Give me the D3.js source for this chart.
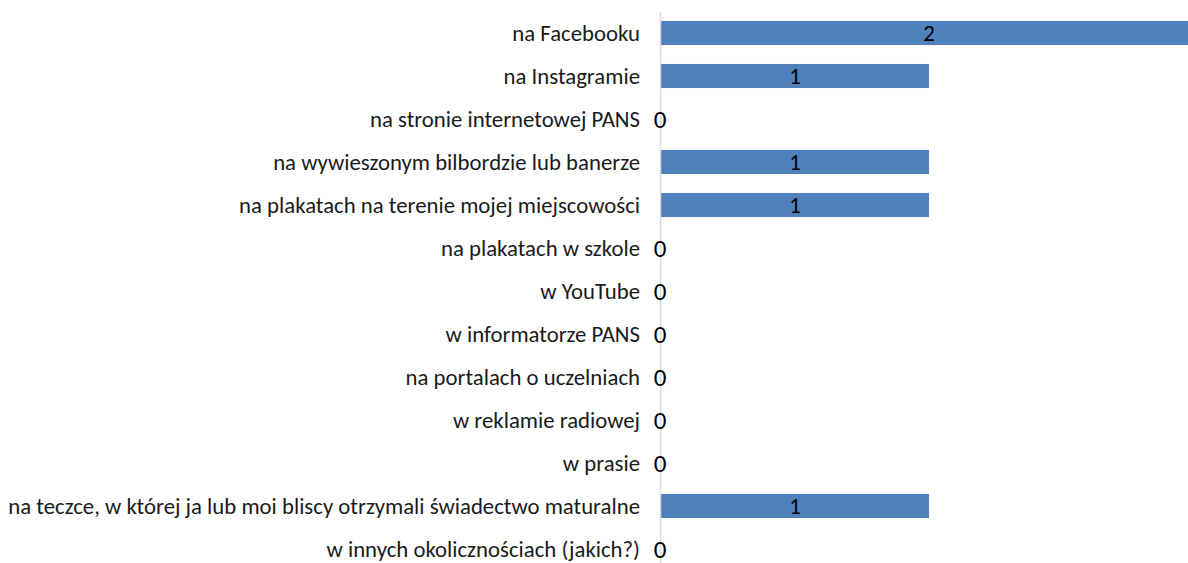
<!DOCTYPE html>
<html>
<head>
<meta charset="utf-8">
<script src="https://cdn.jsdelivr.net/npm/d3@7"></script>
<style>
  body { margin: 0; background: #fff; }
  svg { display: block; }
</style>
</head>
<body>
<script>
// kategorie i wartości
const categories = [
  "na Facebooku",
  "na Instagramie",
  "na stronie internetowej PANS",
  "na wywieszonym bilbordzie lub banerze",
  "na plakatach na terenie mojej miejscowości",
  "na plakatach w szkole",
  "w YouTube",
  "w informatorze PANS",
  "na portalach o uczelniach",
  "w reklamie radiowej",
  "w prasie",
  "na teczce, w której ja lub moi bliscy otrzymali świadectwo maturalne",
  "w innych okolicznościach (jakich?)"
];
const values = [2, 1, 0, 1, 1, 0, 0, 0, 0, 0, 0, 1, 0];

const width = 1188, height = 563;
const data = categories.map((c, i) => ({ cat: c, val: values[i] }));

const svg = d3.select("body")
  .append("svg")
  .attr("width", width)
  .attr("height", height);

const x = d3.scaleLinear().domain([0, 2]).range([661, 1197]);
const y = d3.scaleBand()
  .domain(categories)
  .range([11.5, 570.5])
  .paddingInner(0.44)
  .paddingOuter(0.22);

const font = "Carlito, Calibri, 'Open Sans', sans-serif";

// słupki
svg.selectAll("rect.bar")
  .data(data.filter(d => d.val > 0))
  .enter()
  .append("rect")
  .attr("class", "bar")
  .attr("x", x(0))
  .attr("y", d => y(d.cat))
  .attr("width", d => x(d.val) - x(0))
  .attr("height", y.bandwidth())
  .attr("fill", "#4f81bd");

// oś
svg.append("line")
  .attr("x1", 660.5).attr("x2", 660.5)
  .attr("y1", 12).attr("y2", height)
  .attr("stroke", "#d9d9d9")
  .attr("stroke-width", 1.5);

// etykiety kategorii
const labels = svg.selectAll("text.cat")
  .data(data)
  .enter()
  .append("text")
  .attr("class", "cat")
  .attr("x", 640)
  .attr("y", d => y(d.cat) + y.bandwidth() / 2)
  .attr("dy", "0.35em")
  .attr("text-anchor", "end")
  .attr("font-family", font)
  .attr("font-size", 16)
  .attr("fill", "#1a1a1a")
  .text(d => d.cat);

// dopasuj rozmiar czcionki do najdłuższej etykiety (ok. 632px)
let maxLen = 0;
labels.each(function () { maxLen = Math.max(maxLen, this.getComputedTextLength()); });
const fs = 16 * 632 / maxLen;
labels.attr("font-size", fs);

// etykiety wartości
svg.selectAll("text.val")
  .data(data)
  .enter()
  .append("text")
  .attr("class", "val")
  .attr("x", d => d.val > 0 ? (x(0) + x(d.val)) / 2 : 660)
  .attr("y", d => y(d.cat) + y.bandwidth() / 2)
  .attr("dy", "0.35em")
  .attr("text-anchor", "middle")
  .attr("font-family", font)
  .attr("font-size", d => d.val > 0 ? fs : fs * 1.1)
  .attr("fill", "#000")
  .text(d => d.val);
</script>
</body>
</html>
